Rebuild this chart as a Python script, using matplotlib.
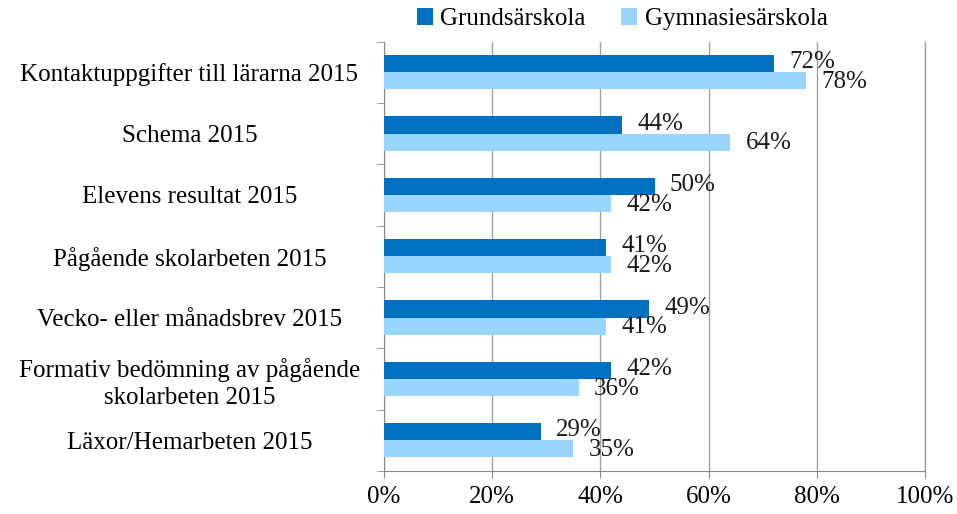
import matplotlib.pyplot as plt
import numpy as np

categories = ['Kontaktuppgifter till lärarna 2015', 'Schema 2015',
              'Elevens resultat 2015', 'Pågående skolarbeten 2015',
              'Vecko- eller månadsbrev 2015',
              'Formativ bedömning av pågående\nskolarbeten 2015',
              'Läxor/Hemarbeten 2015']
grund = [72, 44, 50, 41, 49, 42, 29]
gymn = [78, 64, 42, 42, 41, 36, 35]
series_names = ['Grundsärskola', 'Gymnasiesärskola']

plt.rcParams['font.family'] = ['Liberation Serif', 'DejaVu Serif']
fs = 18

fig = plt.figure(figsize=(9.57, 5.14), dpi=100)
ax = fig.add_axes([0.401, 0.084, 0.566, 0.835])

N = len(categories)
ind = np.arange(N)
h = 0.28

ax.barh(ind - h / 2, grund, h, color='#0070C0', label=series_names[0], zorder=3)
ax.barh(ind + h / 2, gymn, h, color='#99D6FF', label=series_names[1], zorder=3)

# value labels just right of each bar
for i in range(N):
    ax.text(grund[i] + 2.8, ind[i] - h / 2 - 0.02, '%d%%' % grund[i],
            va='center', ha='left', fontsize=fs, color='#1a1a1a', zorder=4)
    ax.text(gymn[i] + 2.8, ind[i] + h / 2 + 0.02, '%d%%' % gymn[i],
            va='center', ha='left', fontsize=fs, color='#1a1a1a', zorder=4)

ax.set_xlim(0, 100)
ax.set_ylim(N - 0.5, -0.5)
ax.set_xticks(np.arange(0, 101, 20))
ax.set_xticklabels(['%d%%' % v for v in range(0, 101, 20)], fontsize=fs)
ax.set_yticks(ind)
ax.set_yticklabels(categories, fontsize=fs, ha='center', linespacing=1.25)
ax.tick_params(axis='y', length=0, pad=140)
ax.set_yticks(np.arange(N + 1) - 0.5, minor=True)
ax.tick_params(axis='y', which='minor', length=5, color='#888888')
ax.tick_params(axis='x', length=5, color='#888888', pad=6)
ax.grid(axis='x', color='#A0A0A0', linewidth=1, zorder=0)
ax.axvline(100, color='#A0A0A0', linewidth=1, clip_on=False, zorder=0)

for s in ['top', 'right']:
    ax.spines[s].set_visible(False)
for s in ['left', 'bottom']:
    ax.spines[s].set_color('#888888')

ax.legend(loc='lower center', bbox_to_anchor=(0.44, 1.0), ncol=2, frameon=False,
          fontsize=fs, handlelength=0.65, handleheight=0.65, handletextpad=0.3,
          columnspacing=1.4, borderaxespad=0.05)

fig.savefig('out.png', dpi=100)
